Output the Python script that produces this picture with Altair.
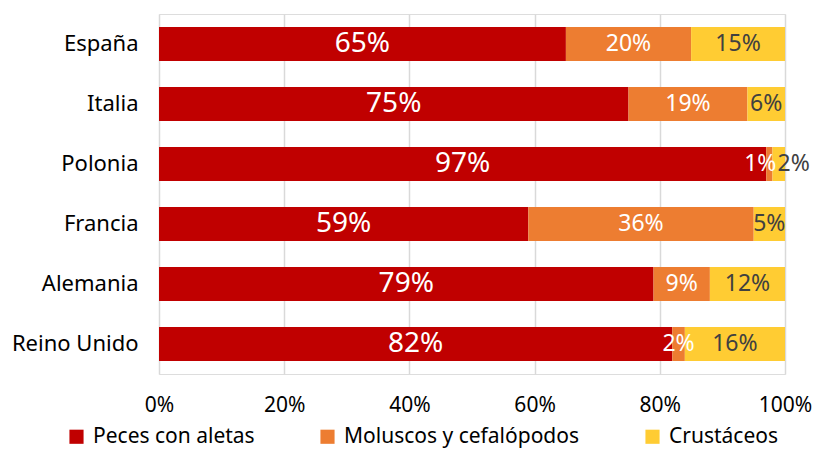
import altair as alt
import pandas as pd

countries = ["España", "Italia", "Polonia", "Francia", "Alemania", "Reino Unido"]
peces = [65, 75, 97, 59, 79, 82]
moluscos = [20, 19, 1, 36, 9, 2]
crustaceos = [15, 6, 2, 5, 12, 16]
categories = ["Peces con aletas", "Moluscos y cefalópodos", "Crustáceos"]
colors = ["#C00000", "#ED7D31", "#FFCC33"]
x_ticks = [0, 20, 40, 60, 80, 100]

rows = []
for i, c in enumerate(countries):
    start = 0
    for k, (cat, vals) in enumerate(zip(categories, [peces, moluscos, crustaceos])):
        v = vals[i]
        rows.append(dict(country=c, category=cat, order=k, value=v, start=start,
                         end=start + v, mid=start + v / 2, label=f"{v}%"))
        start += v
df = pd.DataFrame(rows)

FONT = "Noto Sans"

y_enc = alt.Y("country:N", sort=countries, title=None,
              scale=alt.Scale(paddingInner=0.433, paddingOuter=0.2165),
              axis=alt.Axis(labelFontSize=22, labelColor="#000000", ticks=False,
                            domain=False, labelPadding=21, labelFont=FONT))
x_scale = alt.Scale(domain=[0, 100], nice=False)

bars = alt.Chart(df).mark_bar().encode(
    x=alt.X("start:Q", scale=x_scale, title=None,
            axis=alt.Axis(values=x_ticks, labelExpr="datum.value + '%'", labelFontSize=21,
                          labelColor="#000000", ticks=False, domain=False, labelPadding=20,
                          labelFlush=False, grid=True, gridColor="#D9D9D9", gridWidth=1.5,
                          labelFont=FONT)),
    x2="end:Q",
    y=y_enc,
    color=alt.Color("category:N", sort=categories,
                    scale=alt.Scale(domain=categories, range=colors),
                    legend=alt.Legend(title=None, orient="none", legendX=-93, legendY=412,
                                      direction="horizontal",
                                      symbolType="square", symbolSize=200, labelFontSize=21,
                                      labelFont=FONT, labelColor="#000000", columnPadding=62,
                                      symbolStrokeWidth=0, labelOffset=6, labelLimit=0)),
    order=alt.Order("order:Q"),
)

def text_layer(filt, size, color, dx=0):
    return alt.Chart(df).transform_filter(filt).mark_text(
        fontSize=size, color=color, font=FONT, dx=dx, baseline="middle", align="center"
    ).encode(
        x=alt.X("mid:Q", scale=x_scale),
        y=alt.Y("country:N", sort=countries),
        text="label:N",
    )

t_red = text_layer("datum.order == 0", 28, "#FFFFFF")
t_org = text_layer("datum.order == 1 && datum.country != 'Polonia'", 23, "#FFFFFF")
t_org_p = text_layer("datum.order == 1 && datum.country == 'Polonia'", 23, "#FFFFFF", dx=-9)
t_yel = text_layer("datum.order == 2 && datum.country != 'Polonia'", 23, "#404040")
t_yel_p = text_layer("datum.order == 2 && datum.country == 'Polonia'", 23, "#404040", dx=15)

chart = alt.layer(bars, t_red, t_org, t_org_p, t_yel, t_yel_p).properties(
    width=626, height=360,
    autosize=alt.AutoSizeParams(type="none"),
    padding={"top": 6, "left": 151, "right": 28, "bottom": 77},
).configure_view(stroke=None).configure(font=FONT)

chart.save("out.html", embed_options={"renderer": "svg", "actions": False})
